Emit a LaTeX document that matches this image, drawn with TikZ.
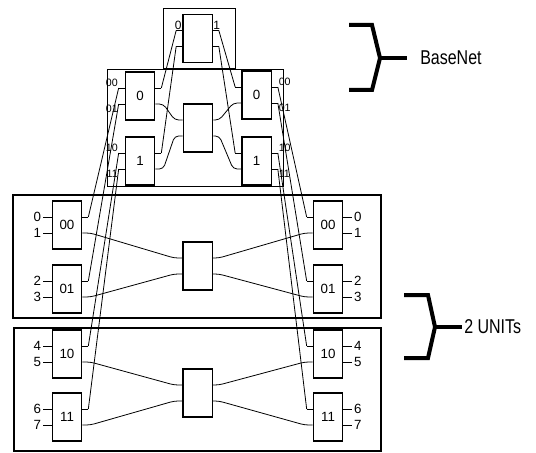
\documentclass[tikz,border=0pt]{standalone}
\usepackage{fontspec}
\setmainfont{Liberation Sans}
\newfontfamily\condfont[FakeStretch=0.8]{Liberation Sans}
\begin{document}
\begin{tikzpicture}[x=0.75pt,y=-0.75pt,
  frame/.style={line width=1.5pt},
  thinframe/.style={line width=0.7pt},
  box/.style={draw, line width=1pt, minimum width=22pt, minimum height=36pt, inner sep=0pt, font=\fontsize{10}{12}\selectfont},
  wire/.style={line width=0.6pt, rounded corners=3pt},
  plab/.style={inner sep=1pt, font=\fontsize{10}{12}\selectfont},
  slab/.style={inner sep=0.5pt, font=\fontsize{8}{9}\selectfont},
  tlab/.style={inner sep=0.5pt, font=\fontsize{9}{10}\selectfont},
  brace/.style={line width=3pt},
  bigtext/.style={font=\condfont\fontsize{15}{18}\selectfont, anchor=west, inner sep=0pt}]
\useasboundingbox (0,0) rectangle (536,453);

% frames
\draw[frame] (13,195) rectangle (381,318);
\draw[frame] (14,328) rectangle (381,451);
\draw[thinframe] (107,69) rectangle (283,186);
\draw[thinframe] (163,8) rectangle (235,68);

% top level
\node[box] (T) at (197.5,38.5) {};
\draw[wire] ([yshift=6pt]T.west) -- ++(-6,0) coordinate (Tlu);
\draw[wire] ([yshift=-6pt]T.west) -- ++(-6,0) coordinate (Tll);
\draw[wire] ([yshift=6pt]T.east) -- ++(6,0) coordinate (Tru);
\draw[wire] ([yshift=-6pt]T.east) -- ++(6,0) coordinate (Trl);
\node[tlab, anchor=south] (tl0) at ([xshift=1.5pt]Tlu) {0};
\node[tlab, anchor=south] (tr1) at ([xshift=-1.5pt]Tru) {1};

% BaseNet second level
\node[box] (B0L) at (140,96) {0};
\node[box] (B1L) at (140,161) {1};
\node[box] (B0R) at (256.5,95) {0};
\node[box] (B1R) at (256.5,161) {1};
\node[box] (BC) at (198,128) {};

\foreach \n in {B0L,B1L}{
  \draw[wire] ([yshift=6pt]\n.west) -- ++(-6,0) coordinate (\n-ou);
  \draw[wire] ([yshift=-6pt]\n.west) -- ++(-6,0) coordinate (\n-ol);
  \draw[wire] ([yshift=6pt]\n.east) -- ++(6,0) coordinate (\n-iu);
}
\foreach \n in {B0R,B1R}{
  \draw[wire] ([yshift=6pt]\n.east) -- ++(6,0) coordinate (\n-ou);
  \draw[wire] ([yshift=-6pt]\n.east) -- ++(6,0) coordinate (\n-ol);
  \draw[wire] ([yshift=6pt]\n.west) -- ++(-6,0) coordinate (\n-iu);
}
\node[slab, anchor=south east] (bl00) at (B0L-ou) {00};
\node[slab, anchor=north east] (bl01) at (B0L-ol) {01};
\node[slab, anchor=south east] (bl10) at (B1L-ou) {10};
\node[slab, anchor=north east] (bl11) at (B1L-ol) {11};
\node[slab, anchor=south west] (br00) at (B0R-ou) {00};
\node[slab, anchor=north west] (br01) at (B0R-ol) {01};
\node[slab, anchor=south west] (br10) at (B1R-ou) {10};
\node[slab, anchor=north west] (br11) at (B1R-ol) {11};

% BaseNet inner wiring
\draw[wire] ([yshift=-6pt]B0L.east) -- ++(8,0) -- ([xshift=-6pt,yshift=6pt]BC.west) -- ([yshift=6pt]BC.west);
\draw[wire] ([yshift=-6pt]B1L.east) -- ++(8,0) -- ([xshift=-6pt,yshift=-6pt]BC.west) -- ([yshift=-6pt]BC.west);
\draw[wire] ([yshift=6pt]BC.east) -- ++(6,0) -- ([xshift=-6pt,yshift=-6pt]B0R.west) -- ([yshift=-6pt]B0R.west);
\draw[wire] ([yshift=-6pt]BC.east) -- ++(6,0) -- ([xshift=-6pt,yshift=-6pt]B1R.west) -- ([yshift=-6pt]B1R.west);

% BaseNet to top
\draw[wire] (B0L-iu) -- (Tlu);
\draw[wire] (B1L-iu) -- (Tll);
\draw[wire] (B0R-iu) -- (Tru);
\draw[wire] (B1R-iu) -- (Trl);

% units
\node[box] (C1) at (197.5,266) {};
\node[box] (C2) at (197.5,393) {};
\foreach \s/\y/\a/\b in {00/225/0/1, 01/289/2/3, 10/354/4/5, 11/417/6/7}{
  \node[box] (L\s) at (67,\y) {\s};
  \node[box] (R\s) at (328,\y) {\s};
  \draw[wire] ([yshift=6pt]L\s.west) -- ++(-9,0) node[plab, left] (La\s) {\a};
  \draw[wire] ([yshift=-6pt]L\s.west) -- ++(-9,0) node[plab, left] (Lb\s) {\b};
  \draw[wire] ([yshift=6pt]R\s.east) -- ++(9,0) node[plab, right] (Ra\s) {\a};
  \draw[wire] ([yshift=-6pt]R\s.east) -- ++(9,0) node[plab, right] (Rb\s) {\b};
  \draw[wire] ([yshift=6pt]L\s.east) -- ++(6,0) coordinate (Lu\s);
  \draw[wire] ([yshift=6pt]R\s.west) -- ++(-6,0) coordinate (Ru\s);
}
% unit inner wiring
\foreach \u/\p/\q in {C1/00/01, C2/10/11}{
  \draw[wire] ([yshift=-6pt]L\p.east) -- ++(8,0) -- ([xshift=-6pt,yshift=6pt]\u.west) -- ([yshift=6pt]\u.west);
  \draw[wire] ([yshift=-6pt]L\q.east) -- ++(8,0) -- ([xshift=-6pt,yshift=-6pt]\u.west) -- ([yshift=-6pt]\u.west);
  \draw[wire] ([yshift=6pt]\u.east) -- ++(6,0) -- ([xshift=-6pt,yshift=-6pt]R\p.west) -- ([yshift=-6pt]R\p.west);
  \draw[wire] ([yshift=-6pt]\u.east) -- ++(6,0) -- ([xshift=-6pt,yshift=-6pt]R\q.west) -- ([yshift=-6pt]R\q.west);
}
% units to BaseNet
\draw[wire] (Lu00) -- (B0L-ou);
\draw[wire] (Lu01) -- (B0L-ol);
\draw[wire] (Lu10) -- (B1L-ou);
\draw[wire] (Lu11) -- (B1L-ol);
\draw[wire] (Ru00) -- (B0R-ou);
\draw[wire] (Ru01) -- (B0R-ol);
\draw[wire] (Ru10) -- (B1R-ou);
\draw[wire] (Ru11) -- (B1R-ol);

% braces
\draw[brace] (349,25) -- (372,25) -- (380,58) -- (372,90) -- (349,90);
\coordinate (bt1) at (380,58);
\draw[brace] (bt1) -- (407,58) coordinate (bt1e);
\node[bigtext] (basenet) at (420,58) {BaseNet};
\draw[brace] (404,295) -- (428,295) -- (435,327) -- (428,358) -- (404,358);
\coordinate (bt2) at (435,327);
\draw[brace] (bt2) -- (462,327) coordinate (bt2e);
\node[bigtext] (units) at (464,327) {2 UNITs};
\end{tikzpicture}
\end{document}
